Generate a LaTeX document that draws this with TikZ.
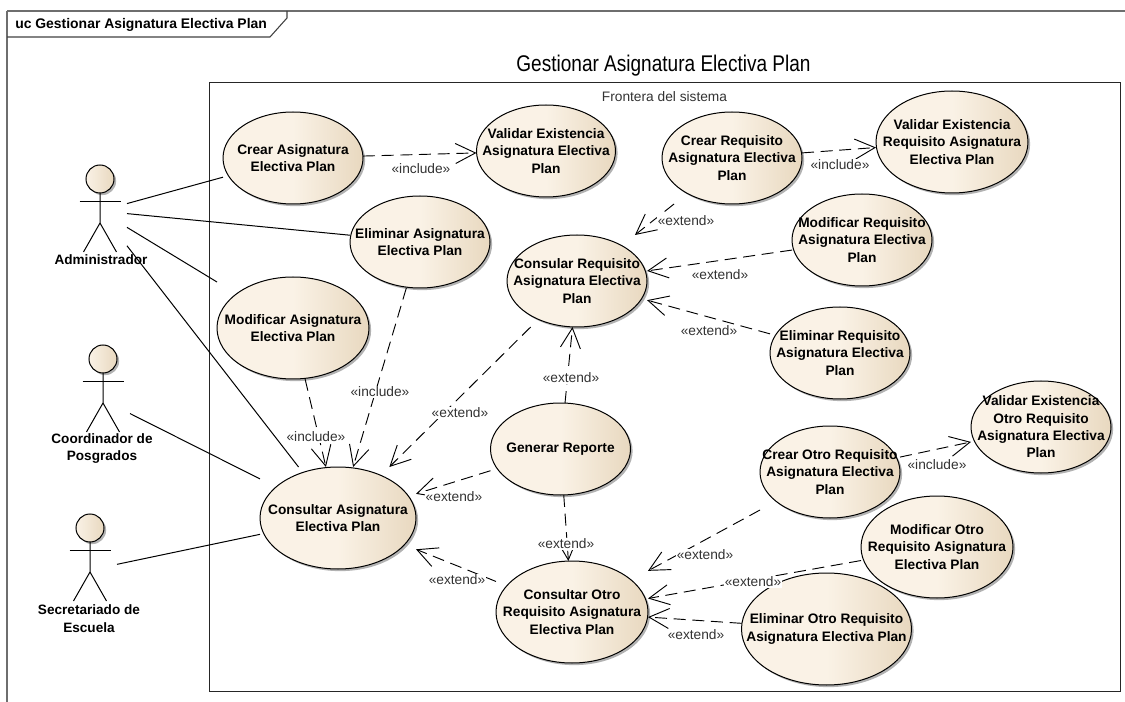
\documentclass[tikz,border=0pt]{standalone}
\usepackage{fontspec}
\setmainfont{Liberation Sans}
\newfontfamily\titlefont[FakeStretch=0.84]{Liberation Sans}
\usepackage{tikz}
\usetikzlibrary{arrows.meta}
\usetikzlibrary{shapes.geometric}
\usetikzlibrary{shadows}

\definecolor{uclight}{HTML}{FAF2E6}
\definecolor{ucdark}{HTML}{E8D8BF}
\definecolor{frameline}{HTML}{6E6E6E}

\tikzset{
  ucshadow/.style={drop shadow={shadow xshift=1.6pt, shadow yshift=-1.6pt, fill=black, opacity=0.3}},
  ucshape/.style={ellipse, draw, line width=0.75pt, inner sep=0, outer sep=0, left color=uclight, right color=ucdark, middle color=uclight, ucshadow},
  ucbox/.style={rectangle, inner sep=0, outer sep=0, align=center, font=\fontsize{10.3}{13}\selectfont\bfseries},
  actorbox/.style={rectangle, inner sep=0, outer sep=0, minimum width=40.5pt, minimum height=69pt},
  actorname/.style={align=center, inner sep=0, font=\fontsize{10.2}{13}\selectfont\bfseries},
  assoc/.style={line width=0.75pt},
  dep/.style={-{Straight Barb[length=15pt, width=15pt]}, line width=0.7pt, dash pattern=on 9pt off 5pt},
  deplabel/.style={fill=white, inner sep=0.5pt, font=\fontsize{10.3}{12}\selectfont, text=black!80},
  stickman/.pic={
    \draw[line width=0.75pt, left color=uclight, right color=ucdark, ucshadow] (0,0) circle[radius=14];
    \draw[line width=0.75pt] (-20.5,22.5) -- (20.5,22.5);
    \draw[line width=0.75pt] (0,14) -- (0,44) -- (-16.5,73);
    \draw[line width=0.75pt] (0,44) -- (16.5,73);
  }
}

% name, centre, width, height, text
\newcommand{\ucase}[5]{
  \node[ucshape, minimum width=#3*0.75pt, minimum height=#4*0.75pt] (#1shape) at (#2) {};
  \node[ucbox, minimum width=#3*0.75pt, minimum height=#4*0.75pt] (#1) at (#2) {#5};
}

\begin{document}
\begin{tikzpicture}[x=0.75pt, y=-0.75pt]
  \useasboundingbox (0,0) rectangle (1125,702);
  % frame %
  \draw[frameline, line width=0.8pt] (1125,11) -- (7,11);
  \draw[frameline, line width=1.2pt] (7,11) -- (7,702);
  \draw[black!75, line width=0.8pt] (7,37) -- (270,37) -- (287,18) -- (287,11);
  \node[anchor=west, inner sep=0, font=\fontsize{10.45}{12}\selectfont\bfseries] (frametitle) at (15,24.5) {uc Gestionar Asignatura Electiva Plan};
  % system boundary %
  \node[rectangle, draw=black!85, line width=0.65pt, fill=white, minimum width=683.25pt, minimum height=456.75pt, inner sep=0, outer sep=0, drop shadow={shadow xshift=0.6pt, shadow yshift=-0.6pt, fill=black, opacity=0.25}] (frontera) at (664.5,386.5) {};
  \node[font=\titlefont\fontsize{17}{20}\selectfont, inner sep=0] (titulo) at (663.5,66) {Gestionar Asignatura Electiva Plan};
  \node[font=\fontsize{10.3}{12}\selectfont, text=black!80, inner sep=0] (fronteraname) at (664.5,97) {Frontera del sistema};
  % actors %
  \pic at (100,179) {stickman};
  \pic at (103,359) {stickman};
  \pic at (90,528) {stickman};
  \node[actorbox] (admin) at (100,211) {};
  \node[actorbox] (coord) at (103,400) {};
  \node[actorbox] (secre) at (90,570) {};
  \node[actorname] (adminname) at (101,260) {Administrador};
  \node[actorname] (coordname) at (102,448.5) {Coordinador de\\Posgrados};
  \node[actorname] (secrename) at (89,618.5) {Secretariado de\\Escuela};
  % use cases %
  \ucase{crearasig}{293,158}{140}{92}{Crear Asignatura\\Electiva Plan}
  \ucase{validarasig}{546,151}{139}{92}{Validar Existencia\\Asignatura Electiva\\Plan}
  \ucase{crearreq}{732,158}{140}{92}{Crear Requisito\\Asignatura Electiva\\Plan}
  \ucase{validarreq}{952,142}{152}{102}{Validar Existencia\\Requisito Asignatura\\Electiva Plan}
  \ucase{modreq}{862,240}{140}{92}{Modificar Requisito\\Asignatura Electiva\\Plan}
  \ucase{elimasig}{420,242}{140}{92}{Eliminar Asignatura\\Electiva Plan}
  \ucase{consreq}{577,281}{140}{92}{Consular Requisito\\Asignatura Electiva\\Plan}
  \ucase{elimreq}{840,353}{140}{92}{Eliminar Requisito\\Asignatura Electiva\\Plan}
  \ucase{modasig}{293,328}{152}{102}{Modificar Asignatura\\Electiva Plan}
  \ucase{consasig}{338,518}{156}{102}{Consultar Asignatura\\Electiva Plan}
  \ucase{reporte}{560.5,449}{140}{92}{Generar Reporte}
  \ucase{consotro}{572,612}{152}{102}{Consultar Otro\\Requisito Asignatura\\Electiva Plan}
  \ucase{crearotro}{830,472}{140}{92}{Crear Otro Requisito\\Asignatura Electiva\\Plan}
  \ucase{validarotro}{1041,427}{140}{92}{Validar Existencia\\Otro Requisito\\Asignatura Electiva\\Plan}
  \ucase{modotro}{937,547}{152}{102}{Modificar Otro\\Requisito Asignatura\\Electiva Plan}
  \ucase{elimotro}{826.5,629}{170}{112}{Eliminar Otro Requisito\\Asignatura Electiva Plan}
  % edges %
  \draw[assoc] (admin) -- (crearasig);
  \draw[assoc] (admin) -- (elimasig);
  \draw[assoc] (admin) -- (modasig);
  \draw[assoc] (admin) -- (consasig);
  \draw[assoc] (coord) -- (consasig);
  \draw[assoc] (secre) -- (consasig);
  \draw[dep] (crearasig) -- (validarasig);
  \draw[dep] (crearreq) -- (validarreq);
  \draw[dep] (crearotro) -- (validarotro);
  \draw[dep] (modasig) -- (consasig);
  \draw[dep] (elimasig) -- (consasig);
  \draw[dep] (crearreq) -- (consreq);
  \draw[dep] (modreq) -- (consreq);
  \draw[dep] (elimreq) -- (consreq);
  \draw[dep] (reporte) -- (consreq);
  \draw[dep] (consreq) -- (consasig);
  \draw[dep] (reporte) -- (consasig);
  \draw[dep] (reporte) -- (consotro);
  \draw[dep] (consotro) -- (consasig);
  \draw[dep] (crearotro) -- (consotro);
  \draw[dep] (modotro) -- (consotro);
  \draw[dep] (elimotro) -- (consotro);
  % edge labels %
  \node[deplabel] (inca) at (421,169) {«include»};
  \node[deplabel] (incb) at (840,165) {«include»};
  \node[deplabel] (incc) at (937,465) {«include»};
  \node[deplabel] (incd) at (316,437) {«include»};
  \node[deplabel] (ince) at (380,392) {«include»};
  \node[deplabel] (exta) at (686,221) {«extend»};
  \node[deplabel] (extb) at (720,275) {«extend»};
  \node[deplabel] (extc) at (709,331) {«extend»};
  \node[deplabel] (extd) at (571,378) {«extend»};
  \node[deplabel] (exte) at (460,413) {«extend»};
  \node[deplabel] (extf) at (454,497) {«extend»};
  \node[deplabel] (extg) at (566,544) {«extend»};
  \node[deplabel] (exth) at (457,580) {«extend»};
  \node[deplabel] (exti) at (705,555) {«extend»};
  \node[deplabel] (extj) at (753,582) {«extend»};
  \node[deplabel] (extk) at (696,635) {«extend»};
\end{tikzpicture}
\end{document}
